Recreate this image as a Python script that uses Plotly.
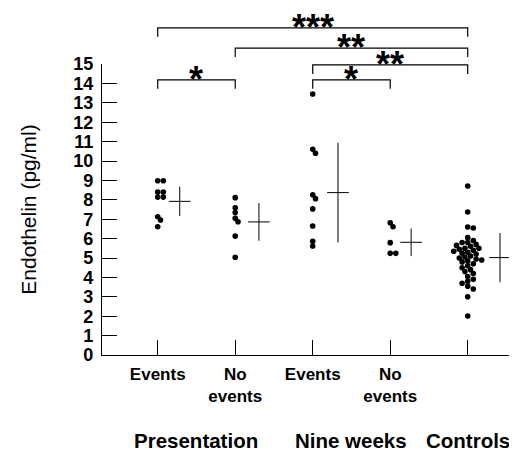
import plotly.graph_objects as go

# ---------------- data ----------------
groups = ["Events", "No<br>events", "Events", "No<br>events", ""]
group_titles = ["Presentation", "Nine weeks", "Controls"]

pres_events = [8.98, 8.98, 8.40, 8.40, 8.14, 8.14, 7.13, 6.96, 6.61]
pres_no_events = [8.11, 7.59, 7.34, 7.05, 6.87, 6.13, 5.04]
nine_events = [13.45, 10.60, 10.40, 8.26, 8.06, 7.53, 6.65, 5.86, 5.62]
nine_no_events = [6.82, 6.61, 5.79, 5.24, 5.24]
controls = [8.71, 7.37, 6.60, 6.55, 6.05, 5.90, 5.80, 5.80, 5.70, 5.65,
            5.60, 5.50, 5.50, 5.45, 5.40, 5.35, 5.30, 5.25, 5.20, 5.10,
            5.05, 5.00, 4.95, 4.90, 4.85, 4.80, 4.70, 4.60, 4.50, 4.40,
            4.30, 4.20, 4.05, 3.90, 3.80, 3.70, 3.55, 3.40, 3.00, 2.01]

group_means = [7.92, 6.86, 8.37, 5.81, 5.02]
group_sds = [0.75, 0.97, 2.57, 0.71, 1.27]

y_ticks = list(range(0, 16))

# significance brackets: (from group, to group, level, label)
brackets = [
    (1, 5, 16.86, "***"),
    (2, 5, 15.82, "**"),
    (3, 5, 14.95, "**"),
    (1, 2, 14.18, "*"),
    (3, 4, 14.18, "*"),
]

# ---------------- style / layout constants ----------------
FONT = "Liberation Sans, Arial, Helvetica, sans-serif"
# the page body adds an 8 px margin, so the figure is 8 px smaller
W, H = 509, 445
M_L, M_R, M_T, M_B = 94, 0, 56, 98
Y_MAX = 15
X_RANGE = [0.281, 5.636]
cross_offsets = [0.284, 0.306, 0.326, 0.27, 0.417]
cross_half = 0.14
PX_X = (W - M_L - M_R) / (X_RANGE[1] - X_RANGE[0])
PX_Y = (H - M_T - M_B) / Y_MAX
DOT = 5.6


def swarm(vals, d=DOT, tight=0.75):
    placed = []
    offs = [0.0] * len(vals)
    order = sorted(range(len(vals)), key=lambda i: -vals[i])
    step = d / 2.0
    for i in order:
        py = vals[i] * PX_Y
        k = 0
        while True:
            cands = [0.0] if k == 0 else [k * step, -k * step]
            ok = None
            for c in cands:
                if all((c - px) ** 2 + (py - qy) ** 2 >= (d * tight) ** 2 for px, qy in placed):
                    ok = c
                    break
            if ok is not None:
                placed.append((ok, py))
                offs[i] = ok / PX_X
                break
            k += 1
    return offs


series = [pres_events, pres_no_events, nine_events, nine_no_events, controls]

fig = go.Figure()
for gi, vals in enumerate(series):
    pos = gi + 1
    offs = swarm(vals)
    fig.add_trace(go.Scatter(
        x=[pos + o for o in offs], y=vals, mode="markers",
        marker=dict(color="black", size=DOT, line=dict(width=0)),
        showlegend=False, hoverinfo="y"))
    fig.add_trace(go.Scatter(
        x=[pos + cross_offsets[gi]], y=[group_means[gi]], mode="markers",
        marker=dict(size=1, opacity=0),
        error_y=dict(type="data", array=[group_sds[gi]], symmetric=True,
                     color="black", thickness=1, width=0),
        error_x=dict(type="constant", value=cross_half, color="black",
                     thickness=1, width=0),
        showlegend=False, hoverinfo="y"))

shapes = []
annotations = []
DROP = 0.46
for a, b, lvl, lab in brackets:
    shapes.append(dict(
        type="path", xref="x", yref="paper",
        path=f"M {a},{(lvl - DROP) / Y_MAX} L {a},{lvl / Y_MAX} L {b},{lvl / Y_MAX} L {b},{(lvl - DROP) / Y_MAX}",
        line=dict(color="black", width=1.2)))
    annotations.append(dict(
        x=(a + b) / 2, y=lvl / Y_MAX, xref="x", yref="paper",
        text=lab, showarrow=False, yanchor="bottom", xanchor="center",
        yshift=-22, font=dict(family=FONT, size=36, color="black", weight="bold")))

for t, xpos in zip(group_titles, [1.5, 3.5, 5.0]):
    annotations.append(dict(
        x=xpos, y=-(440 - 8 - (H - M_B)) / (H - M_T - M_B), xref="x", yref="paper",
        text=t, showarrow=False, yanchor="middle", xanchor="center", borderpad=0,
        font=dict(family=FONT, size=20.5, color="black", weight="bold")))

fig.update_layout(
    width=W, height=H,
    margin=dict(l=M_L, r=M_R, t=M_T, b=M_B),
    paper_bgcolor="white", plot_bgcolor="white",
    font=dict(family=FONT, color="black"),
    shapes=shapes, annotations=annotations,
    xaxis=dict(range=X_RANGE, tickmode="array", tickvals=[1, 2, 3, 4, 5],
               ticktext=groups, ticks="inside", ticklen=15, tickwidth=1.2,
               tickcolor="black", showline=True, linecolor="black", linewidth=1.2,
               showgrid=False, zeroline=False, ticklabelstandoff=3,
               tickfont=dict(family=FONT, size=17, color="black", weight="bold")),
    yaxis=dict(range=[0, Y_MAX], tickmode="array", tickvals=y_ticks,
               ticks="inside", ticklen=15, tickwidth=1.2, tickcolor="black",
               showline=True, linecolor="black", linewidth=1.2,
               showgrid=False, zeroline=False, ticklabelstandoff=4,
               tickfont=dict(family=FONT, size=18, color="black", weight="bold"),
               title=dict(text="Endothelin (pg/ml)", standoff=30,
                          font=dict(family=FONT, size=21, color="black"))),
)

fig.write_html("out.html")
